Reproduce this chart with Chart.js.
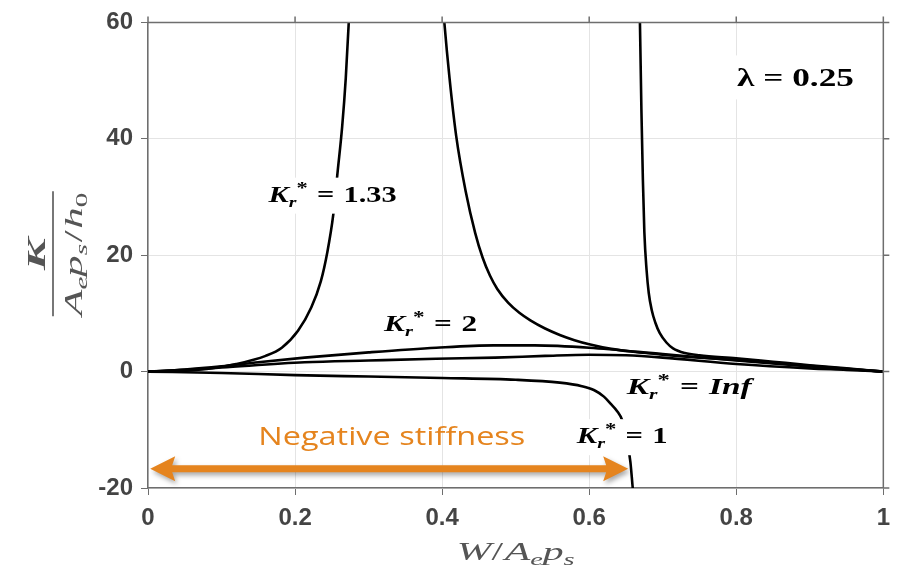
<!DOCTYPE html>
<html>
<head>
<meta charset="utf-8">
<script src="https://cdn.jsdelivr.net/npm/chart.js@4.4.0/dist/chart.umd.min.js"></script>
<style>
  html, body { margin: 0; padding: 0; background: #fff; }
</style>
</head>
<body>
<canvas id="myChart" width="899" height="572"></canvas>
<script>
// axis ticks
const xTicks = [0, 0.2, 0.4, 0.6, 0.8, 1];
const yTicks = [-20, 0, 20, 40, 60];

// K_r* = 1.33 : rising branch up to the left asymptote
const kr133LeftX = [0, 0.04, 0.08, 0.12, 0.16, 0.182, 0.204, 0.222, 0.235, 0.244, 0.252, 0.258, 0.264, 0.269, 0.273, 0.276, 0.278];
const kr133LeftY = [0, 0.12, 0.46, 1.3, 2.7, 4.1, 7.0, 11, 15.5, 20.6, 27, 34.5, 42, 50.5, 60, 68, 75];
// K_r* = 1.33 : falling branch from the asymptote down to W = 1
const kr133RightX = [0.4, 0.403, 0.41, 0.419, 0.432, 0.445, 0.455, 0.465, 0.475, 0.49, 0.505, 0.52, 0.54, 0.56, 0.58, 0.60, 0.63, 0.66, 0.70, 0.75, 0.80, 0.85, 0.90, 0.95, 1];
const kr133RightY = [65, 60, 50.5, 40.6, 31.0, 23.8, 19.6, 16.5, 14.2, 11.8, 10.1, 8.8, 7.4, 6.3, 5.4, 4.7, 3.9, 3.4, 2.9, 2.4, 2.0, 1.5, 1.0, 0.5, 0];

// K_r* = 1 : negative branch
const kr1LeftX = [0, 0.1, 0.2, 0.3, 0.4, 0.5, 0.56, 0.59, 0.607, 0.62, 0.629, 0.638, 0.645, 0.651, 0.656, 0.659, 0.662];
const kr1LeftY = [0, -0.25, -0.6, -0.85, -1.1, -1.4, -1.9, -2.5, -3.2, -4.3, -5.5, -6.8, -8.4, -11.5, -15.5, -19.7, -24];
// K_r* = 1 : branch coming down from the top
const kr1RightX = [0.668, 0.669, 0.671, 0.673, 0.675, 0.678, 0.681, 0.685, 0.69, 0.696, 0.705, 0.714, 0.73, 0.75, 0.8, 0.85, 0.9, 0.95, 1];
const kr1RightY = [66, 60, 45, 33, 24, 17.5, 13.5, 10.6, 8.4, 6.6, 5.0, 4.0, 3.2, 2.8, 2.3, 1.7, 1.1, 0.55, 0];

// K_r* = 2
const kr2X = [0, 0.05, 0.1, 0.15, 0.213, 0.3, 0.392, 0.47, 0.526, 0.6, 0.7, 0.8, 0.9, 0.95, 1];
const kr2Y = [0, 0.35, 0.9, 1.6, 2.4, 3.3, 4.1, 4.5, 4.5, 4.1, 3.0, 1.9, 0.9, 0.45, 0];

// K_r* = Inf
const krInfX = [0, 0.05, 0.1, 0.213, 0.3, 0.392, 0.472, 0.54, 0.6, 0.65, 0.7, 0.8, 0.9, 0.95, 1];
const krInfY = [0, 0.3, 0.7, 1.6, 1.9, 2.2, 2.4, 2.7, 2.9, 2.8, 2.4, 1.3, 0.55, 0.3, 0];

// labels inside the plot, anchored in data units (left edge, baseline)
const curveNotes = [
  { value: '1.33', x: 0.164, y: 29.2, width: 128, box: true },
  { value: '2', x: 0.321, y: 7.0, width: 93, box: false },
  { value: 'Inf', x: 0.651, y: -3.9, width: 125, box: false },
  { value: '1', x: 0.583, y: -12.3, width: 91, box: true }
];
const lambdaNote = { text: '\u03bb = 0.25', x: 0.801, y: 49.0, width: 117 };
const stiffNote = { text: 'Negative stiffness', x: 0.150, y: -12.6, width: 267 };
const stiffArrow = { from: 0.003, to: 0.653, y: -16.7 };

const serif = '"Liberation Serif", "DejaVu Serif", serif';
const orange = '#E5841E';
const frameColor = '#6e6e6e';

function toPoints(xs, ys) {
  return xs.map((x, i) => ({ x: x, y: ys[i] }));
}

function curve(xs, ys) {
  return {
    data: toPoints(xs, ys),
    showLine: true,
    borderColor: '#000',
    borderWidth: 2.6,
    pointRadius: 0,
    fill: false,
    cubicInterpolationMode: 'monotone'
  };
}

function runsWidth(ctx, runs) {
  let w = 0;
  runs.forEach(r => { ctx.font = r.font; w += ctx.measureText(r.t).width + (r.gap || 0); });
  return w;
}

// draws a row of text runs, stretched to the wanted width
function drawRuns(ctx, runs, x, y, width, align) {
  const natural = runsWidth(ctx, runs);
  const sx = width ? width / natural : 1;
  const w = natural * sx;
  const start = align === 'center' ? x - w / 2 : x;
  ctx.save();
  ctx.translate(start, y);
  ctx.scale(sx, 1);
  ctx.textAlign = 'left';
  ctx.textBaseline = 'alphabetic';
  let cx = 0;
  runs.forEach(r => {
    ctx.font = r.font;
    ctx.fillText(r.t, cx, r.dy || 0);
    cx += ctx.measureText(r.t).width + (r.gap || 0);
  });
  ctx.restore();
  return w;
}

function krRuns(v) {
  return [
    { t: 'K', font: `bold italic 23px ${serif}` },
    { t: 'r', font: `bold italic 15px ${serif}`, dy: 5 },
    { t: '*', font: `bold 17px ${serif}`, dy: -9, gap: 7 },
    { t: '=', font: `bold 23px ${serif}`, gap: 7 },
    { t: v, font: (v === 'Inf' ? 'bold italic' : 'bold') + ` 23px ${serif}` }
  ];
}

const overlay = {
  id: 'overlay',
  afterDatasetsDraw(chart) {
    const ctx = chart.ctx;
    const xs = chart.scales.x, ys = chart.scales.y;
    ctx.save();
    ctx.fillStyle = '#000';

    curveNotes.forEach(n => {
      const px = xs.getPixelForValue(n.x), py = ys.getPixelForValue(n.y);
      if (n.box) {
        ctx.fillStyle = '#fff';
        ctx.fillRect(px - 4, py - 24, n.width + 8, 36);
        ctx.fillStyle = '#000';
      }
      drawRuns(ctx, krRuns(n.value), px, py, n.width, 'left');
    });

    // lambda
    const lx = xs.getPixelForValue(lambdaNote.x), ly = ys.getPixelForValue(lambdaNote.y);
    ctx.fillStyle = '#fff';
    ctx.fillRect(lx - 4, ly - 31, lambdaNote.width + 8, 44);
    ctx.fillStyle = '#000';
    drawRuns(ctx, [{ t: lambdaNote.text, font: `bold 25px ${serif}` }], lx, ly, lambdaNote.width, 'left');

    // negative stiffness text + arrow
    ctx.fillStyle = orange;
    drawRuns(ctx, [{ t: stiffNote.text, font: '26px "Open Sans", "Noto Sans", sans-serif' }],
      xs.getPixelForValue(stiffNote.x), ys.getPixelForValue(stiffNote.y), stiffNote.width, 'left');

    const ax0 = xs.getPixelForValue(stiffArrow.from), ax1 = xs.getPixelForValue(stiffArrow.to);
    const ay = ys.getPixelForValue(stiffArrow.y);
    const head = 25, half = 12.5, shaft = 3.5;
    ctx.shadowColor = 'rgba(0,0,0,0.35)';
    ctx.shadowBlur = 5;
    ctx.shadowOffsetX = 2;
    ctx.shadowOffsetY = 3;
    ctx.beginPath();
    ctx.moveTo(ax0, ay);
    ctx.lineTo(ax0 + head, ay - half);
    ctx.lineTo(ax0 + head - 3, ay - shaft);
    ctx.lineTo(ax1 - head + 3, ay - shaft);
    ctx.lineTo(ax1 - head, ay - half);
    ctx.lineTo(ax1, ay);
    ctx.lineTo(ax1 - head, ay + half);
    ctx.lineTo(ax1 - head + 3, ay + shaft);
    ctx.lineTo(ax0 + head - 3, ay + shaft);
    ctx.lineTo(ax0 + head, ay + half);
    ctx.closePath();
    ctx.fill();
    ctx.restore();
  },
  afterDraw(chart) {
    const ctx = chart.ctx;
    const a = chart.chartArea;
    const xs = chart.scales.x, ys = chart.scales.y;
    ctx.save();
    // top and right frame with outward ticks
    ctx.strokeStyle = frameColor;
    ctx.lineWidth = 1.5;
    ctx.beginPath();
    ctx.moveTo(a.left, a.top);
    ctx.lineTo(a.right, a.top);
    ctx.lineTo(a.right, a.bottom);
    xTicks.forEach(v => {
      const p = xs.getPixelForValue(v);
      ctx.moveTo(p, a.top);
      ctx.lineTo(p, a.top - 6);
    });
    yTicks.forEach(v => {
      const p = ys.getPixelForValue(v);
      ctx.moveTo(a.right, p);
      ctx.lineTo(a.right + 6, p);
    });
    ctx.stroke();

    // x title
    ctx.fillStyle = '#555';
    drawRuns(ctx, [
      { t: 'W', font: `italic 25px ${serif}` },
      { t: '/', font: `25px ${serif}`, gap: 1 },
      { t: 'A', font: `italic 25px ${serif}` },
      { t: 'e', font: `italic 17px ${serif}`, dy: 5 },
      { t: 'p', font: `italic 25px ${serif}` },
      { t: 's', font: `italic 17px ${serif}`, dy: 5 }
    ], (a.left + a.right) / 2, a.bottom + 72, 118, 'center');

    // y title as a fraction, rotated
    ctx.translate(a.left - 95, (a.top + a.bottom) / 2 - 1);
    ctx.rotate(-Math.PI / 2);
    drawRuns(ctx, [{ t: 'K', font: `bold italic 26px ${serif}` }], 0, -8, 32, 'center');
    ctx.strokeStyle = '#555';
    ctx.lineWidth = 1.6;
    ctx.beginPath();
    ctx.moveTo(-62, 0);
    ctx.lineTo(63, 0);
    ctx.stroke();
    drawRuns(ctx, [
      { t: 'A', font: `italic 25px ${serif}` },
      { t: 'e', font: `italic 17px ${serif}`, dy: 5 },
      { t: 'p', font: `italic 25px ${serif}` },
      { t: 's', font: `italic 17px ${serif}`, dy: 5, gap: 1 },
      { t: '/', font: `25px ${serif}`, gap: 1 },
      { t: 'h', font: `italic 25px ${serif}` },
      { t: '0', font: `17px ${serif}`, dy: 5 }
    ], 0, 29, 123, 'center');
    ctx.restore();
  }
};

const ctx = document.getElementById('myChart');
const chart = new Chart(ctx, {
  type: 'scatter',
  data: {
    datasets: [
      curve(kr133LeftX, kr133LeftY),
      curve(kr133RightX, kr133RightY),
      curve(kr2X, kr2Y),
      curve(krInfX, krInfY),
      curve(kr1LeftX, kr1LeftY),
      curve(kr1RightX, kr1RightY)
    ]
  },
  options: {
    responsive: false,
    animation: false,
    layout: { padding: { top: 19, right: 6, left: 0, bottom: 0 } },
    plugins: { legend: { display: false }, tooltip: { enabled: false } },
    scales: {
      x: {
        type: 'linear',
        min: 0,
        max: 1,
        afterBuildTicks: s => { s.ticks = xTicks.map(v => ({ value: v })); },
        afterFit: s => { s.height = 84; },
        ticks: {
          callback: v => String(v),
          color: '#444',
          padding: 9,
          font: { family: '"Liberation Sans", Arial, sans-serif', size: 24, weight: 'bold' }
        },
        grid: { color: '#e4e4e4', tickColor: frameColor, tickLength: 7, lineWidth: 1 },
        border: { color: frameColor, width: 1.5 }
      },
      y: {
        type: 'linear',
        min: -20,
        max: 60,
        afterBuildTicks: s => { s.ticks = yTicks.map(v => ({ value: v })); },
        afterFit: s => { s.width = 148; },
        ticks: {
          callback: v => String(v),
          color: '#444',
          padding: 8,
          font: { family: '"Liberation Sans", Arial, sans-serif', size: 24, weight: 'bold' }
        },
        grid: { color: '#e4e4e4', tickColor: frameColor, tickLength: 7, lineWidth: 1 },
        border: { color: frameColor, width: 1.5 }
      }
    }
  },
  plugins: [overlay]
});
</script>
</body>
</html>
